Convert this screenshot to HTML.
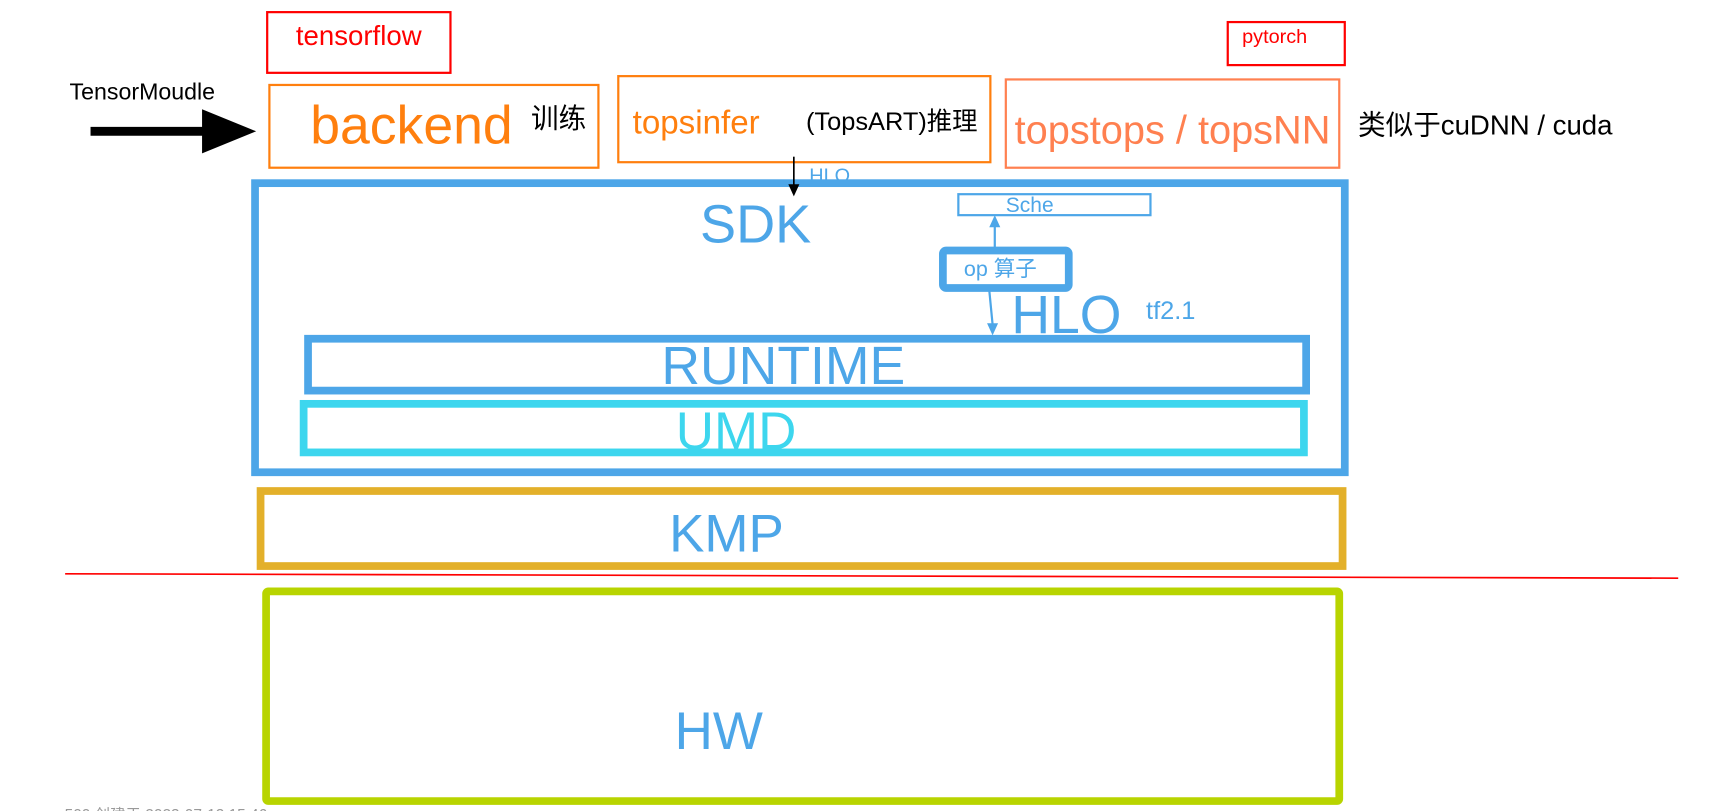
<!DOCTYPE html>
<html><head><meta charset="utf-8"><style>
html,body{margin:0;padding:0;background:#fff;overflow:hidden}
svg{display:block}
text{font-family:"Liberation Sans","Noto Sans CJK SC",sans-serif}
</style></head><body>
<svg width="1729" height="811" viewBox="0 0 1566 735" preserveAspectRatio="none" xmlns="http://www.w3.org/2000/svg">
<rect x="0" y="0" width="1566" height="735" fill="#fff"/>
<rect x="242" y="11" width="166" height="55" fill="none" stroke="#ff0000" stroke-width="2"/>
<text x="268" y="41" font-size="25" fill="#ff0000">tensorflow</text>
<rect x="1112" y="20" width="106" height="39" fill="none" stroke="#ff0000" stroke-width="2"/>
<text x="1125" y="39" font-size="18" fill="#ff0000">pytorch</text>
<text x="63" y="90" font-size="21" fill="#000">TensorMoudle</text>
<line x1="82" y1="119" x2="186" y2="119" stroke="#000" stroke-width="8"/>
<polygon points="183,99 232,119 183,139" fill="#000"/>
<rect x="244" y="77" width="298" height="75" fill="none" stroke="#ff7f0e" stroke-width="2"/>
<text x="281" y="130" font-size="48.5" fill="#ff7f0e">backend</text>
<text x="481" y="116" font-size="25" fill="#000">训练</text>
<rect x="560" y="69" width="337" height="78" fill="none" stroke="#ff7f0e" stroke-width="2"/>
<text x="573" y="121" font-size="30" fill="#ff7f0e">topsinfer</text>
<text x="730" y="118" font-size="23" fill="#000">(TopsART)推理</text>
<rect x="911" y="72" width="302" height="80" fill="none" stroke="#ff8050" stroke-width="2"/>
<text x="919" y="130" font-size="36" fill="#ff8050">topstops / topsNN</text>
<text x="1230" y="122" font-size="25" fill="#000">类似于cuDNN / cuda</text>
<text x="733" y="165" font-size="18" fill="#4da6e8">HLO</text>
<rect x="231" y="166" width="987" height="262" fill="none" stroke="#4da6e8" stroke-width="7"/>
<line x1="719" y1="142" x2="719" y2="168" stroke="#000" stroke-width="1.5"/>
<polygon points="714,167 724,167 719,178" fill="#000"/>
<text x="634" y="220" font-size="49" fill="#4da6e8">SDK</text>
<rect x="868" y="176" width="174" height="19" fill="none" stroke="#4da6e8" stroke-width="2"/>
<text x="911" y="192" font-size="19" fill="#4da6e8">Sche</text>
<line x1="901" y1="228" x2="901" y2="204" stroke="#4da6e8" stroke-width="2"/>
<polygon points="896,206 906,206 901,195" fill="#4da6e8"/>
<rect x="854" y="227" width="114" height="34" rx="3" fill="none" stroke="#4da6e8" stroke-width="7"/>
<text x="873" y="250" font-size="19.5" fill="#4da6e8">op 算子</text>
<line x1="896" y1="263" x2="899" y2="294" stroke="#4da6e8" stroke-width="2"/>
<polygon points="894,293 904,293 899,304" fill="#4da6e8"/>
<text x="916" y="302" font-size="48.5" fill="#4da6e8">HLO</text>
<text x="1038" y="289" font-size="23" fill="#4da6e8">tf2.1</text>
<rect x="279" y="307" width="904" height="47" fill="none" stroke="#4da6e8" stroke-width="7"/>
<text x="599" y="348" font-size="48.5" fill="#4da6e8">RUNTIME</text>
<rect x="275" y="366" width="906" height="44" fill="none" stroke="#3dd6ee" stroke-width="7"/>
<text x="612" y="407" font-size="48" fill="#3dd6ee">UMD</text>
<rect x="236" y="445" width="980" height="68" fill="none" stroke="#e3b02a" stroke-width="7"/>
<text x="606" y="500" font-size="48" fill="#4da6e8">KMP</text>
<line x1="59" y1="520" x2="1520" y2="524" stroke="#ff0000" stroke-width="1.5"/>
<rect x="241" y="536" width="972" height="190" rx="2" fill="none" stroke="#b8d400" stroke-width="7"/>
<text x="611" y="679" font-size="48" fill="#4da6e8">HW</text>
<text x="50" y="743" font-size="14" fill="#999">·  500 创建于 2023-07-13 15:46</text>
</svg>
</body></html>
